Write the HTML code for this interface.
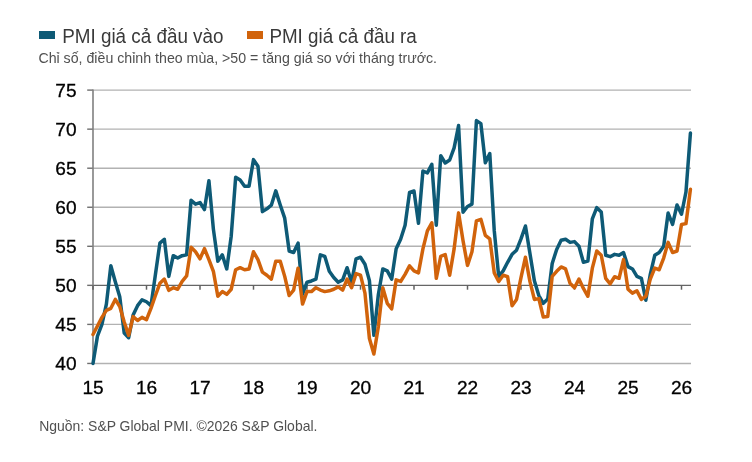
<!DOCTYPE html>
<html lang="vi"><head><meta charset="utf-8"><title>PMI</title>
<style>
html,body{margin:0;padding:0;background:#fff;}
body{width:752px;height:462px;overflow:hidden;font-family:"Liberation Sans",sans-serif;}
svg{display:block;will-change:transform;opacity:0.999;}
.ax text{font-family:"Liberation Sans",sans-serif;font-size:19.1px;fill:#000;stroke:#000;stroke-width:0.3px;}
.ttl{font-family:"Liberation Sans",sans-serif;font-size:20px;fill:#3a3a3a;}
.sub{font-family:"Liberation Sans",sans-serif;font-size:14.6px;fill:#505050;}
</style></head><body>
<svg width="752" height="462" viewBox="0 0 752 462">
<rect width="752" height="462" fill="#fff"/>
<rect x="39" y="31" width="16" height="8" fill="#0e5a76"/>
<text class="ttl" x="62.2" y="42.6" textLength="161.3" lengthAdjust="spacingAndGlyphs">PMI giá cả đầu vào</text>
<rect x="247" y="31" width="16" height="8" fill="#d1630b"/>
<text class="ttl" x="269.4" y="42.6" textLength="147.4" lengthAdjust="spacingAndGlyphs">PMI giá cả đầu ra</text>
<text class="sub" x="38.4" y="62.9" textLength="398.6" lengthAdjust="spacingAndGlyphs">Chỉ số, điều chỉnh theo mùa, &gt;50 = tăng giá so với tháng trước.</text>
<g>
<line x1="93" y1="363.45" x2="691" y2="363.45" stroke="#b2b2b2" stroke-width="1.4"/>
<line x1="87.2" y1="363.45" x2="93" y2="363.45" stroke="#6e6e6e" stroke-width="1.4"/>
<line x1="93" y1="324.40" x2="691" y2="324.40" stroke="#b2b2b2" stroke-width="1.4"/>
<line x1="87.2" y1="324.40" x2="93" y2="324.40" stroke="#6e6e6e" stroke-width="1.4"/>
<line x1="93" y1="285.35" x2="691" y2="285.35" stroke="#666" stroke-width="1.4"/>
<line x1="87.2" y1="285.35" x2="93" y2="285.35" stroke="#6e6e6e" stroke-width="1.4"/>
<line x1="93" y1="246.30" x2="691" y2="246.30" stroke="#b2b2b2" stroke-width="1.4"/>
<line x1="87.2" y1="246.30" x2="93" y2="246.30" stroke="#6e6e6e" stroke-width="1.4"/>
<line x1="93" y1="207.25" x2="691" y2="207.25" stroke="#b2b2b2" stroke-width="1.4"/>
<line x1="87.2" y1="207.25" x2="93" y2="207.25" stroke="#6e6e6e" stroke-width="1.4"/>
<line x1="93" y1="168.20" x2="691" y2="168.20" stroke="#b2b2b2" stroke-width="1.4"/>
<line x1="87.2" y1="168.20" x2="93" y2="168.20" stroke="#6e6e6e" stroke-width="1.4"/>
<line x1="93" y1="129.15" x2="691" y2="129.15" stroke="#b2b2b2" stroke-width="1.4"/>
<line x1="87.2" y1="129.15" x2="93" y2="129.15" stroke="#6e6e6e" stroke-width="1.4"/>
<line x1="93" y1="90.10" x2="691" y2="90.10" stroke="#b2b2b2" stroke-width="1.4"/>
<line x1="87.2" y1="90.10" x2="93" y2="90.10" stroke="#6e6e6e" stroke-width="1.4"/>
<line x1="93" y1="89.4" x2="93" y2="364" stroke="#808080" stroke-width="1.6"/>
<line x1="93.0" y1="285.3" x2="93.0" y2="289.7" stroke="#606060" stroke-width="1.5"/>
<line x1="146.5" y1="285.3" x2="146.5" y2="289.7" stroke="#606060" stroke-width="1.5"/>
<line x1="200.0" y1="285.3" x2="200.0" y2="289.7" stroke="#606060" stroke-width="1.5"/>
<line x1="253.5" y1="285.3" x2="253.5" y2="289.7" stroke="#606060" stroke-width="1.5"/>
<line x1="307.0" y1="285.3" x2="307.0" y2="289.7" stroke="#606060" stroke-width="1.5"/>
<line x1="360.5" y1="285.3" x2="360.5" y2="289.7" stroke="#606060" stroke-width="1.5"/>
<line x1="414.0" y1="285.3" x2="414.0" y2="289.7" stroke="#606060" stroke-width="1.5"/>
<line x1="467.5" y1="285.3" x2="467.5" y2="289.7" stroke="#606060" stroke-width="1.5"/>
<line x1="521.0" y1="285.3" x2="521.0" y2="289.7" stroke="#606060" stroke-width="1.5"/>
<line x1="574.5" y1="285.3" x2="574.5" y2="289.7" stroke="#606060" stroke-width="1.5"/>
<line x1="628.0" y1="285.3" x2="628.0" y2="289.7" stroke="#606060" stroke-width="1.5"/>
<line x1="681.5" y1="285.3" x2="681.5" y2="289.7" stroke="#606060" stroke-width="1.5"/>
</g>
<g class="ax">
<text x="76.6" y="370.1" text-anchor="end">40</text>
<text x="76.6" y="331.1" text-anchor="end">45</text>
<text x="76.6" y="292.1" text-anchor="end">50</text>
<text x="76.6" y="253.0" text-anchor="end">55</text>
<text x="76.6" y="213.9" text-anchor="end">60</text>
<text x="76.6" y="174.9" text-anchor="end">65</text>
<text x="76.6" y="135.8" text-anchor="end">70</text>
<text x="76.6" y="96.8" text-anchor="end">75</text>
<text x="93.0" y="393.8" text-anchor="middle">15</text>
<text x="146.5" y="393.8" text-anchor="middle">16</text>
<text x="200.0" y="393.8" text-anchor="middle">17</text>
<text x="253.5" y="393.8" text-anchor="middle">18</text>
<text x="307.0" y="393.8" text-anchor="middle">19</text>
<text x="360.5" y="393.8" text-anchor="middle">20</text>
<text x="414.0" y="393.8" text-anchor="middle">21</text>
<text x="467.5" y="393.8" text-anchor="middle">22</text>
<text x="521.0" y="393.8" text-anchor="middle">23</text>
<text x="574.5" y="393.8" text-anchor="middle">24</text>
<text x="628.0" y="393.8" text-anchor="middle">25</text>
<text x="681.5" y="393.8" text-anchor="middle">26</text>
</g>
<path d="M93.00 363.45 L97.46 336.12 L101.92 324.40 L106.38 304.09 L110.83 265.82 L115.29 281.84 L119.75 296.67 L124.21 332.99 L128.67 337.68 L133.12 315.03 L137.58 305.66 L142.04 299.80 L146.50 301.75 L150.96 305.66 L155.42 274.42 L159.88 243.18 L164.33 239.27 L168.79 276.37 L173.25 255.67 L177.71 258.01 L182.17 255.67 L186.62 254.89 L191.08 200.22 L195.54 204.13 L200.00 202.56 L204.46 209.59 L208.92 180.70 L213.38 229.12 L217.83 261.14 L222.29 254.89 L226.75 268.95 L231.21 236.15 L235.67 177.18 L240.12 179.91 L244.58 186.16 L249.04 186.16 L253.50 159.61 L257.96 166.17 L262.42 211.62 L266.88 208.81 L271.33 205.22 L275.79 190.85 L280.25 204.91 L284.71 218.18 L289.17 250.99 L293.62 252.55 L298.08 243.18 L302.54 294.33 L307.00 282.23 L311.46 280.98 L315.92 279.10 L320.38 254.89 L324.83 256.45 L329.29 271.29 L333.75 277.54 L338.21 282.23 L342.67 279.88 L347.12 267.70 L351.58 282.23 L356.04 258.80 L360.50 257.23 L364.96 264.26 L369.42 280.66 L373.88 335.33 L378.33 294.72 L382.79 268.95 L387.25 270.90 L391.71 279.10 L396.17 248.64 L400.62 239.27 L405.08 225.21 L409.54 192.41 L414.00 191.01 L418.46 223.26 L422.92 171.01 L427.38 172.89 L431.83 164.29 L436.29 225.21 L440.75 155.70 L445.21 162.97 L449.67 160.00 L454.12 147.89 L458.58 125.56 L463.04 212.25 L467.50 206.47 L471.96 204.13 L476.42 120.56 L480.88 123.68 L485.33 162.73 L489.79 153.60 L494.25 230.68 L498.71 276.37 L503.17 270.90 L507.62 262.31 L512.08 254.34 L516.54 250.20 L521.00 238.88 L525.46 225.99 L529.92 253.33 L534.38 280.66 L538.83 295.50 L543.29 303.31 L547.75 298.94 L552.21 263.48 L556.67 249.42 L561.12 240.29 L565.58 239.27 L570.04 242.39 L574.50 241.61 L578.96 246.30 L583.42 262.31 L587.88 261.14 L592.33 218.96 L596.79 207.64 L601.25 211.94 L605.71 255.28 L610.17 256.69 L614.62 254.34 L619.08 255.28 L623.54 252.55 L628.00 266.61 L632.46 268.95 L636.92 276.37 L641.38 278.32 L645.83 300.19 L650.29 274.42 L654.75 255.28 L659.21 252.55 L663.67 246.30 L668.12 213.03 L672.58 224.43 L677.04 204.91 L681.50 214.28 L685.96 192.02 L690.42 133.06" fill="none" stroke="#0e5a76" stroke-width="3.5" stroke-linejoin="round" stroke-linecap="round"/>
<path d="M93.00 334.55 L97.46 325.96 L101.92 317.37 L106.38 310.34 L110.83 308.31 L115.29 299.41 L119.75 306.44 L124.21 322.06 L128.67 335.33 L133.12 316.59 L137.58 320.50 L142.04 317.37 L146.50 319.71 L150.96 308.31 L155.42 295.50 L159.88 283.32 L164.33 279.10 L168.79 290.35 L173.25 287.69 L177.71 289.25 L182.17 281.44 L186.62 275.98 L191.08 247.32 L195.54 251.77 L200.00 258.80 L204.46 248.64 L208.92 259.58 L213.38 271.29 L217.83 296.28 L222.29 291.60 L226.75 294.33 L231.21 289.25 L235.67 269.73 L240.12 267.70 L244.58 269.73 L249.04 268.95 L253.50 251.77 L257.96 259.58 L262.42 272.07 L266.88 275.20 L271.33 279.10 L275.79 261.14 L280.25 261.14 L284.71 276.37 L289.17 295.50 L293.62 290.04 L298.08 268.17 L302.54 304.09 L307.00 291.60 L311.46 291.60 L315.92 287.69 L320.38 290.04 L324.83 291.60 L329.29 290.82 L333.75 289.25 L338.21 286.91 L342.67 290.04 L347.12 279.10 L351.58 287.69 L356.04 273.63 L360.50 275.20 L364.96 293.16 L369.42 338.46 L373.88 354.08 L378.33 326.74 L382.79 287.69 L387.25 303.31 L391.71 308.78 L396.17 279.88 L400.62 281.44 L405.08 274.42 L409.54 265.82 L414.00 270.90 L418.46 272.85 L422.92 248.88 L427.38 230.91 L431.83 222.87 L436.29 278.32 L440.75 256.45 L445.21 254.50 L449.67 275.20 L454.12 248.88 L458.58 212.87 L463.04 240.83 L467.50 265.36 L471.96 251.77 L476.42 220.84 L480.88 219.28 L485.33 235.37 L489.79 238.88 L494.25 272.85 L498.71 281.44 L503.17 275.20 L507.62 276.76 L512.08 305.66 L516.54 299.41 L521.00 277.54 L525.46 257.23 L529.92 281.44 L534.38 299.41 L538.83 298.63 L543.29 316.98 L547.75 316.59 L552.21 276.37 L556.67 271.29 L561.12 266.92 L565.58 268.95 L570.04 283.32 L574.50 287.69 L578.96 279.10 L583.42 288.47 L587.88 296.28 L592.33 268.17 L596.79 250.99 L601.25 255.28 L605.71 278.32 L610.17 283.79 L614.62 276.76 L619.08 278.32 L623.54 259.58 L628.00 289.25 L632.46 293.16 L636.92 290.82 L641.38 299.41 L645.83 296.28 L650.29 279.10 L654.75 268.17 L659.21 269.73 L663.67 258.01 L668.12 242.39 L672.58 252.55 L677.04 250.99 L681.50 224.43 L685.96 223.65 L690.42 189.29" fill="none" stroke="#d1630b" stroke-width="3.5" stroke-linejoin="round" stroke-linecap="round"/>
<text class="sub" x="39.2" y="430.9" textLength="278.2" lengthAdjust="spacingAndGlyphs">Nguồn: S&amp;P Global PMI. ©2026 S&amp;P Global.</text>
</svg>
</body></html>
